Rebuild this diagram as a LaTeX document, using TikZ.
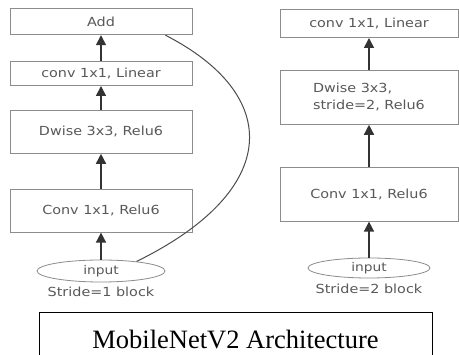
\documentclass[tikz,border=0pt]{standalone}
\usepackage{fontspec}
\setmainfont{Liberation Serif}
\newfontfamily\diagfont[FakeStretch=1.15]{DejaVu Sans}
\usetikzlibrary{arrows.meta, positioning, shapes.geometric}

\begin{document}
\begin{tikzpicture}[
  x=1pt, y=-1pt,
  box/.style={rectangle, draw=black!45, line width=0.8pt, align=center, inner sep=2pt,
    font=\diagfont\fontsize{12.5}{17}\selectfont, text=black!65},
  oval/.style={ellipse, draw=black!45, line width=0.8pt, inner sep=0pt,
    font=\diagfont\fontsize{12}{14}\selectfont, text=black!65},
  tag/.style={inner sep=0pt, font=\diagfont\fontsize{12.5}{14}\selectfont, text=black!65},
  line/.style={-{Triangle[length=10pt, width=10pt]}, line width=1.5pt, draw=black!80},
  curve/.style={line width=1pt, draw=black!70}
]
\useasboundingbox[fill=white] (0,0) rectangle (459,355);

% stride 1 block
\node[oval, minimum width=128pt, minimum height=22pt] (inA) at (101,271) {input};
\node[box, minimum width=182pt, minimum height=43pt, above=27pt of inA] (convA) {Conv 1x1, Relu6};
\node[box, minimum width=182pt, minimum height=43pt, above=35pt of convA] (dwA) {Dwise 3x3, Relu6};
\node[box, minimum width=182pt, minimum height=24pt, above=24pt of dwA] (linA) {conv 1x1, Linear};
\node[box, minimum width=182pt, minimum height=26pt, above=26pt of linA] (add) {Add};
\node[tag, below=4pt of inA] (strA) {Stride=1 block};
\coordinate (join) at ([xshift=-27pt]add.south east);

\draw[line] (inA) -- (convA);
\draw[line] (convA) -- (dwA);
\draw[line] (dwA) -- (linA);
\draw[line] (linA) -- (add);
\draw[curve] (inA.15) .. controls (282,190) and (282,95) .. (join);

% stride 2 block
\node[oval, minimum width=122pt, minimum height=20pt] (inB) at (369,268) {input};
\node[box, minimum width=178pt, minimum height=54pt, above=36pt of inB] (convB) {Conv 1x1, Relu6};
\node[box, align=left, minimum width=178pt, minimum height=54pt, above=42pt of convB] (dwB) {Dwise 3x3,\\stride=2, Relu6};
\node[box, minimum width=178pt, minimum height=28pt, above=32pt of dwB] (linB) {conv 1x1, Linear};
\node[tag, below=5pt of inB] (strB) {Stride=2 block};

\draw[line] (inB) -- (convB);
\draw[line] (convB) -- (dwB);
\draw[line] (dwB) -- (linB);

% caption
\node[draw, line width=0.9pt, minimum width=393pt, minimum height=56pt,
  font=\fontsize{26.5}{30}\selectfont] (title) at (235.5,340) {MobileNetV2 Architecture};
\end{tikzpicture}
\end{document}
